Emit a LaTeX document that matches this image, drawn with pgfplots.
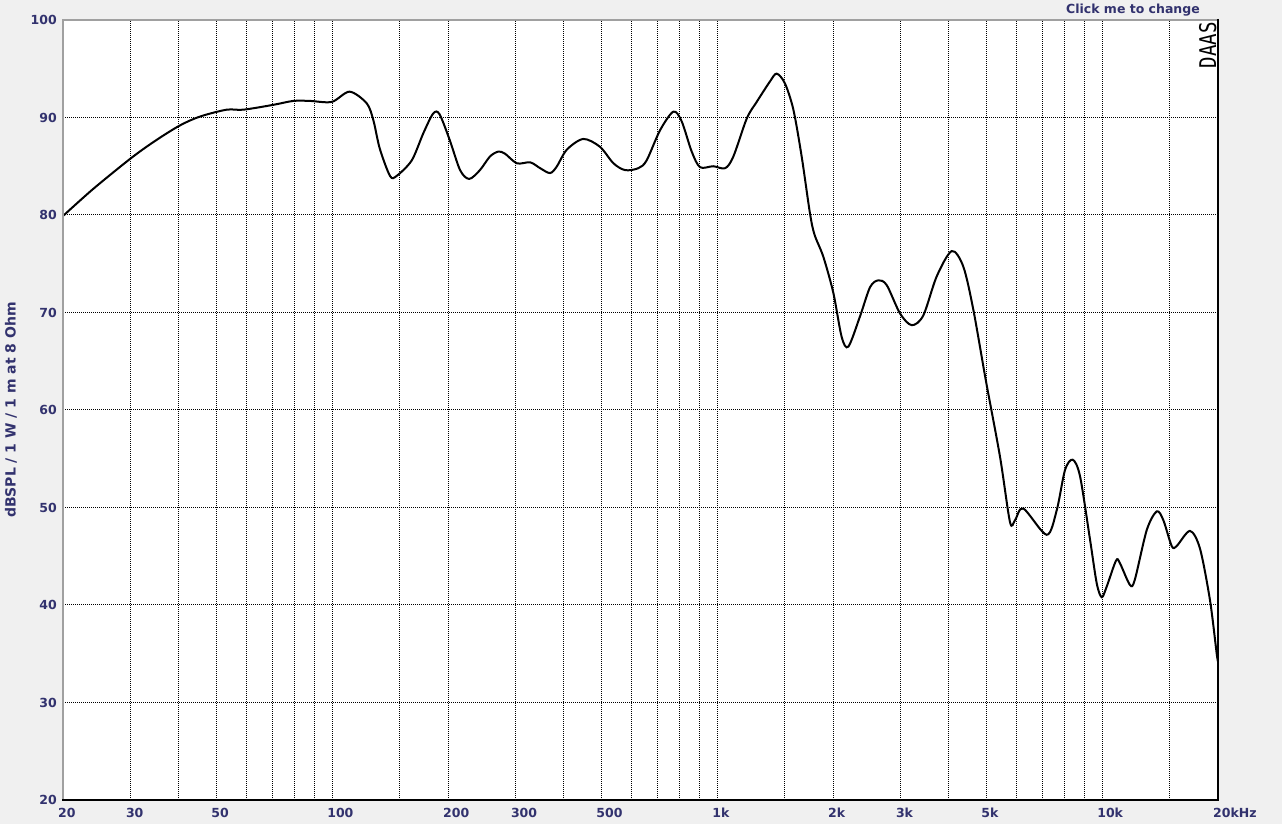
\documentclass[border=0pt]{standalone}
\usepackage{pgfplots}
\pgfplotsset{compat=1.18}
\usepackage{fontspec}
\setmainfont{DejaVu Sans}
\setmonofont{DejaVu Sans Mono}
\definecolor{lab}{RGB}{50,50,110}
\definecolor{bg}{RGB}{240,240,240}
\definecolor{framegray}{RGB}{160,160,160}
\begin{document}
\begin{tikzpicture}[x=1pt,y=1pt]
\fill[bg] (-63,-24) rectangle (1219,800);
\begin{axis}[at={(0,0)}, anchor=south west, scale only axis, width=1155pt, height=780pt,
  xmode=log, log basis x=10, xmin=20, xmax=20000, ymin=20, ymax=100,
  axis background/.style={fill=white},
  axis line style={draw=none},
  xtick={20,30,50,100,200,300,500,1000,2000,3000,5000,10000,20000},
  xticklabels={20,30,50,100,200,300,500,1k,2k,3k,5k,10k,20kHz},
  minor xtick={40,60,70,80,90,150,400,600,700,800,900,1500,4000,6000,7000,8000,9000,15000},
  ytick={20,30,40,50,60,70,80,90,100},
  yticklabels={20,30,40,50,60,70,80,90,100},
  major tick length=0pt, minor tick length=0pt,
  grid=both,
  major grid style={black, line width=1pt, dash pattern=on 1pt off 1pt},
  minor grid style={black, line width=1pt, dash pattern=on 1pt off 1pt},
  tick label style={font=\fontsize{12.5}{15}\selectfont\bfseries, text=lab, inner sep=0pt},
  xticklabel style={anchor=north west, xshift=-5pt, yshift=-8pt},
  yticklabel style={anchor=east, xshift=-6pt},
]
\addplot[black, line width=2pt, smooth, tension=0.5] coordinates {
(20,79.9) (24,82.7) (30.2,85.9) (35,87.7) (40.3,89.2) (45.4,90.1) (53.2,90.8) (58.8,90.8)
(70.4,91.3) (79.3,91.7) (87.6,91.7) (99.8,91.6) (111,92.65) (123,91.45) (128,89.7) (133,86.8)
(141.4,84.0) (147,84.0) (161,85.6) (172.6,88.4) (183,90.4) (190,90.35) (202,87.7) (215,84.6)
(227,83.7) (242,84.6) (257,86.0) (270,86.5) (281,86.3) (302,85.3) (327,85.4) (347,84.8)
(368,84.3) (383,84.95) (407,86.7) (449,87.8) (496,87.0) (538,85.3) (577,84.6) (624,84.8)
(656,85.6) (711,88.7) (770,90.6) (809,89.6) (859,86.5) (903,84.9) (977,85.0) (1049,84.8)
(1102,86.0) (1194,89.9) (1267,91.6) (1372,93.7) (1428,94.5) (1500,93.5) (1578,90.8) (1658,86.0)
(1742,80.2) (1790,78.0) (1888,75.7) (2004,72.0) (2106,67.5) (2192,66.5) (2350,69.6) (2496,72.6)
(2624,73.3) (2758,72.8) (2986,69.9) (3202,68.7) (3432,69.7) (3718,73.7) (4068,76.3) (4360,74.7)
(4628,70.3) (4990,63.0) (5430,55.2) (5764,48.5) (5940,48.7) (6242,49.9) (7178,47.2) (7620,49.7)
(8010,53.85) (8388,54.9) (8762,53.2) (9302,46.7) (9684,42.2) (9978,40.8) (10280,41.9) (10866,44.55)
(11120,44.3) (11812,42.05) (12160,42.6) (13060,47.7) (13862,49.6) (14420,48.7) (15160,46.05) (15620,46.05)
(16910,47.6) (17950,45.8) (19060,40.5) (19845,35.0) (20000,34.2)
};
\end{axis}
\draw[framegray, line width=2pt] (0,-1) -- (0,780) -- (1156,780);
\draw[black, line width=1.5pt] (1155,781) -- (1155,0) -- (-1,0);
\node[anchor=base east, inner sep=0pt, text=lab, font=\fontsize{12.5}{15}\selectfont\bfseries] at (1137,786) {Click me to change};
\node[rotate=90, inner sep=0pt, text=lab, font=\fontsize{14}{16}\selectfont\bfseries] at (-52,390) {dBSPL / 1 W / 1 m at 8 Ohm};
\node[rotate=90, anchor=base east, inner sep=0pt, font=\fontsize{23}{23}\selectfont\ttfamily] at (1153,778) {\scalebox{0.83}[1]{DAAS}};
\end{tikzpicture}
\end{document}
